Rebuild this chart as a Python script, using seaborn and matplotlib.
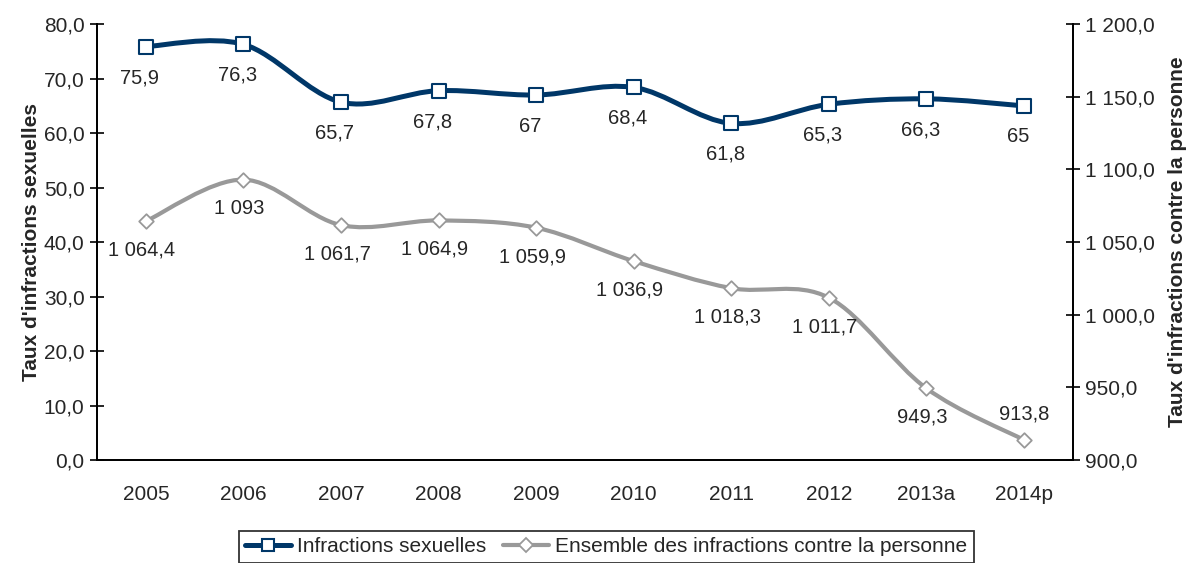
import matplotlib
matplotlib.use('Agg')
import matplotlib.pyplot as plt
import seaborn as sns
import numpy as np
from matplotlib.path import Path
from matplotlib.patches import PathPatch
from matplotlib.lines import Line2D
from matplotlib.ticker import FuncFormatter, MultipleLocator

sns.set_style('white')
plt.rcParams['font.family'] = ['Liberation Sans', 'DejaVu Sans']

# données
annees = ['2005', '2006', '2007', '2008', '2009', '2010', '2011', '2012', '2013a', '2014p']
infractions_sexuelles = [75.9, 76.3, 65.7, 67.8, 67.0, 68.4, 61.8, 65.3, 66.3, 65.0]
infractions_personne = [1064.4, 1093.0, 1061.7, 1064.9, 1059.9, 1036.9, 1018.3, 1011.7, 949.3, 913.8]
etiquettes_sex = ['75,9', '76,3', '65,7', '67,8', '67', '68,4', '61,8', '65,3', '66,3', '65']
etiquettes_pers = ['1 064,4', '1 093', '1 061,7', '1 064,9', '1 059,9', '1 036,9',
                   '1 018,3', '1 011,7', '949,3', '913,8']

BLEU = '#003768'
GRIS = '#999999'


# courbe lissée façon Excel (Bezier / Catmull-Rom)
def courbe_lissee(xs, ys):
    n = len(xs)
    verts = [(xs[0], ys[0])]
    codes = [Path.MOVETO]
    for i in range(n - 1):
        a = i - 1 if i > 0 else i
        d = i + 2 if i + 2 < n else i + 1
        c1 = (xs[i] + (xs[i + 1] - xs[a]) / 6, ys[i] + (ys[i + 1] - ys[a]) / 6)
        c2 = (xs[i + 1] - (xs[d] - xs[i]) / 6, ys[i + 1] - (ys[d] - ys[i]) / 6)
        verts += [c1, c2, (xs[i + 1], ys[i + 1])]
        codes += [Path.CURVE4] * 3
    return Path(verts, codes)


x = np.arange(len(annees))

fig, ax = plt.subplots(figsize=(11.88, 5.63), dpi=100)
fig.subplots_adjust(left=0.0817, right=0.903, top=0.957, bottom=0.183)
ax2 = ax.twinx()

# série 1 : infractions sexuelles (axe gauche)
ax.add_patch(PathPatch(courbe_lissee(x, infractions_sexuelles), fill=False,
                       edgecolor=BLEU, lw=3.6, capstyle='round', joinstyle='round', zorder=2))
sns.scatterplot(x=x, y=infractions_sexuelles, ax=ax, marker='s', s=90,
                color='white', edgecolor=BLEU, linewidth=1.5, zorder=3, legend=False)
for xi, yi, lab in zip(x, infractions_sexuelles, etiquettes_sex):
    ax.annotate(lab, (xi, yi), xytext=(-6, -31), textcoords='offset pixels',
                ha='center', va='center', fontsize=14.5)

# série 2 : ensemble des infractions contre la personne (axe droit)
ax2.add_patch(PathPatch(courbe_lissee(x, infractions_personne), fill=False,
                        edgecolor=GRIS, lw=3.0, capstyle='round', joinstyle='round', zorder=2))
sns.scatterplot(x=x, y=infractions_personne, ax=ax2, marker='D', s=55,
                color='white', edgecolor=GRIS, linewidth=1.3, zorder=3, legend=False)
for i, (xi, yi, lab) in enumerate(zip(x, infractions_personne, etiquettes_pers)):
    dy = 26 if i == len(x) - 1 else -29
    ax2.annotate(lab, (xi, yi), xytext=(0 if dy > 0 else -4, dy), textcoords='offset pixels',
                 ha='center', va='center', fontsize=14.5)

# axes
ax.set_xlim(-0.5, len(annees) - 0.5)
ax.set_ylim(0, 80)
ax2.set_ylim(900, 1200)
ax.yaxis.set_major_locator(MultipleLocator(10))
ax2.yaxis.set_major_locator(MultipleLocator(50))


def fmt_fr(v, pos):
    s = f'{v:,.1f}'.replace(',', ' ').replace('.', ',')
    return s


ax.yaxis.set_major_formatter(FuncFormatter(fmt_fr))
ax2.yaxis.set_major_formatter(FuncFormatter(fmt_fr))

ax.set_xticks(x)
ax.set_xticklabels(annees)
ax.set_xticks(np.arange(-0.5, len(annees), 1), minor=True)
ax.tick_params(axis='x', which='major', length=0, pad=18, labelsize=15)
ax.tick_params(axis='x', which='minor', direction='out', length=7, width=1.2, color='black')
ax.tick_params(axis='y', direction='inout', length=10, width=1.2, color='black', labelsize=15, pad=4)
ax2.tick_params(axis='y', direction='inout', length=10, width=1.2, color='black', labelsize=15, pad=4)

for a in (ax, ax2):
    a.spines['top'].set_visible(False)
    for s in ('left', 'right', 'bottom'):
        a.spines[s].set_color('black')
        a.spines[s].set_linewidth(1.3)
    a.grid(False)

ax.set_ylabel("Taux d'infractions sexuelles", fontsize=15, fontweight='bold', labelpad=2)
ax2.set_ylabel("Taux d'infractions contre la personne", fontsize=15, fontweight='bold', labelpad=9)

# légende
handles = [
    Line2D([], [], color=BLEU, lw=3.6, marker='s', markersize=9,
           markerfacecolor='white', markeredgecolor=BLEU, markeredgewidth=1.5),
    Line2D([], [], color=GRIS, lw=3.0, marker='D', markersize=7.5,
           markerfacecolor='white', markeredgecolor=GRIS, markeredgewidth=1.3),
]
leg = fig.legend(handles, ['Infractions sexuelles', 'Ensemble des infractions contre la personne'],
                 loc='upper center', bbox_to_anchor=(0.5105, 0.075), ncol=2, fontsize=15,
                 frameon=True, fancybox=False, edgecolor='black', handlelength=2.2,
                 handletextpad=0.3, columnspacing=0.8, borderpad=0.3)
leg.get_frame().set_linewidth(1.3)

fig.savefig('out.png', dpi=100)
